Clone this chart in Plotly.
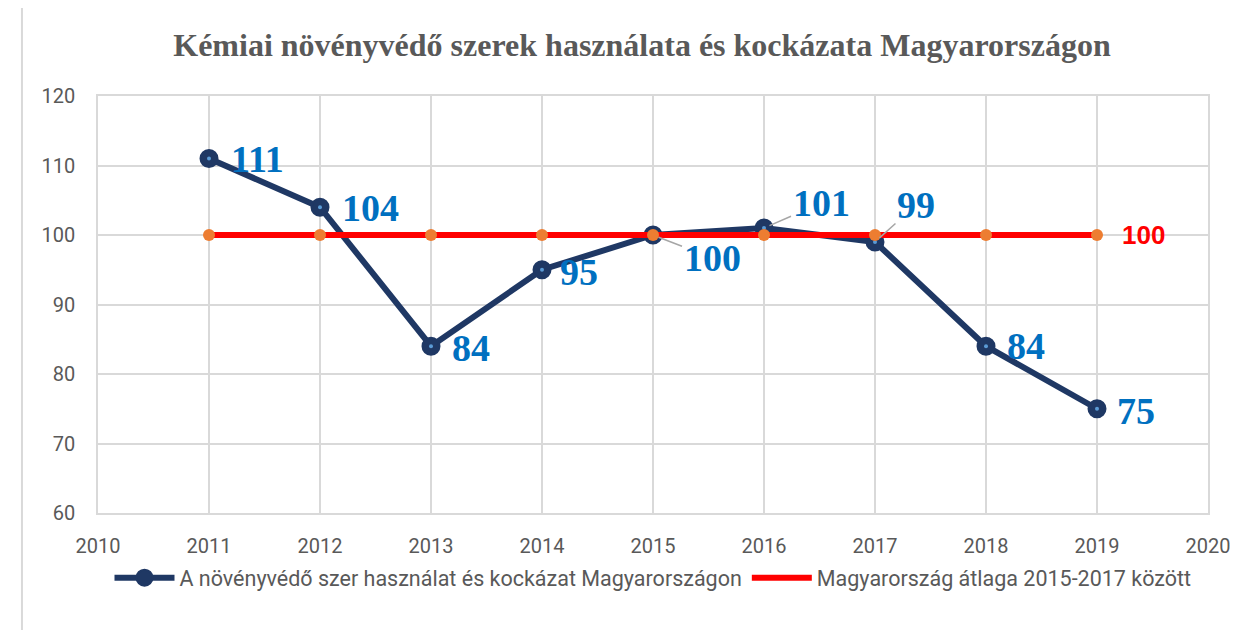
import plotly.graph_objects as go

# Chart data
years = [2011, 2012, 2013, 2014, 2015, 2016, 2017, 2018, 2019]
usage_risk = [111, 104, 84, 95, 100, 101, 99, 84, 75]
avg_2015_2017 = [100, 100, 100, 100, 100, 100, 100, 100, 100]

title_text = "Kémiai növényvédő szerek használata és kockázata Magyarországon"
name_usage = "A növényvédő szer használat és kockázat Magyarországon"
name_avg = "Magyarország átlaga 2015-2017 között"

NAVY = "#1F3864"
LABEL_BLUE = "#0070C0"
GRID = "#D9D9D9"
TXT = "#595959"
TICK_FONT = "Liberation Sans Narrow, Roboto, Arial"

fig = go.Figure()
fig.add_trace(go.Scatter(
    x=years, y=usage_risk, name=name_usage,
    mode="lines+markers",
    line=dict(color=NAVY, width=6),
    marker=dict(color=NAVY, size=17, line=dict(color=NAVY, width=2)),
))
# light centre dot of the navy markers
fig.add_trace(go.Scatter(
    x=years, y=usage_risk, mode="markers", showlegend=False, hoverinfo="skip",
    marker=dict(color="#5B9BD5", size=4),
))
fig.add_trace(go.Scatter(
    x=years, y=avg_2015_2017, name=name_avg, showlegend=False,
    mode="lines+markers",
    line=dict(color="#FF0000", width=6),
    marker=dict(color="#ED7D31", size=12),
))
# legend entry for the average: line only, as in the original
fig.add_trace(go.Scatter(
    x=[None], y=[None], name=name_avg, mode="lines",
    line=dict(color="#FF0000", width=6),
))

# data labels: (xshift, yshift) for plain ones, (ax, ay) for ones with leader lines
plain_shift = {2011: (20, 0), 2012: (20, -1), 2013: (19, -2), 2014: (16, -2),
               2018: (19, 0), 2019: (18, -2)}
leader_shift = {2015: (59, 23), 2016: (57, -25), 2017: (41, -37)}
label_font = dict(family="Liberation Serif, Times New Roman, serif", size=38, color=LABEL_BLUE)

for yr, val in zip(years, usage_risk):
    if yr in plain_shift:
        dx, dy = plain_shift[yr]
        fig.add_annotation(x=yr, y=val, text=f"<b>{val}</b>", showarrow=False,
                           xanchor="left", xshift=dx, yshift=dy, font=label_font)
    else:
        ax, ay = leader_shift[yr]
        fig.add_annotation(x=yr, y=val, text=f"<b>{val}</b>", showarrow=True,
                           ax=ax, ay=ay, arrowhead=0, arrowwidth=1.5,
                           arrowcolor="#A6A6A6", standoff=6, font=label_font)

fig.add_annotation(x=years[-1], y=avg_2015_2017[-1], text=f"<b>{avg_2015_2017[-1]}</b>",
                   showarrow=False, xanchor="left", xshift=23, yshift=0,
                   font=dict(family="Liberation Sans, Arial", size=26, color="#FF0000"))

# outer chart frame
fig.add_shape(type="rect", xref="paper", yref="paper",
              x0=-0.0685, x1=1.05, y0=-0.35, y1=1.218,
              line=dict(color=GRID, width=2), layer="below")

fig.update_layout(
    width=1248, height=630,
    margin=dict(l=90, r=48, t=88, b=125),
    paper_bgcolor="white", plot_bgcolor="white",
    title=dict(text=f"<b>{title_text}</b>", x=0.508, xanchor="center", y=0.941, yanchor="middle",
               font=dict(family="Liberation Serif, Times New Roman, serif", size=32, color=TXT)),
    xaxis=dict(range=[2010, 2020], dtick=1, tick0=2010, showgrid=True, gridcolor=GRID, gridwidth=1.5,
               showline=True, linecolor=GRID, linewidth=1.5, mirror=True, zeroline=False,
               ticks="", ticklabelstandoff=14,
               tickfont=dict(family=TICK_FONT, size=20, color=TXT)),
    yaxis=dict(range=[60, 120], dtick=10, showgrid=True, gridcolor=GRID, gridwidth=1.5,
               showline=True, linecolor=GRID, linewidth=1.5, mirror=True, zeroline=False,
               ticks="", ticklabelstandoff=17,
               tickfont=dict(family=TICK_FONT, size=20, color=TXT)),
    legend=dict(orientation="h", x=0.5, xanchor="center", y=-0.106, yanchor="top",
                font=dict(family=TICK_FONT, size=21.5, color=TXT), itemwidth=60,
                bgcolor="rgba(0,0,0,0)"),
    showlegend=True,
)

fig.write_html("out.html")
